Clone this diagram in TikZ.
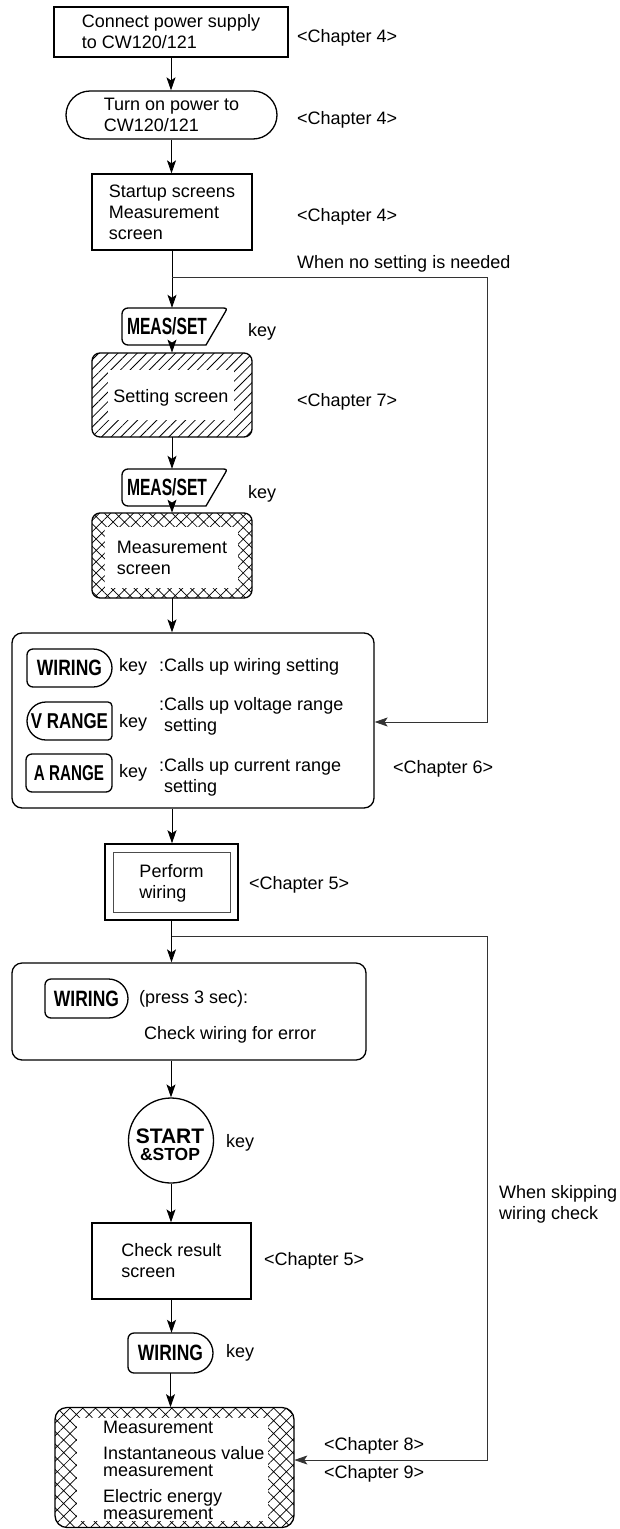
\documentclass[tikz,border=0pt]{standalone}
\usepackage{fontspec}
\setmainfont{Liberation Sans}
\usepackage{graphicx}
\usetikzlibrary{arrows.meta,patterns.meta}
\newcommand\kl[3]{\resizebox{#1pt}{#2pt}{\bfseries #3}}
% right-rounded key: L T R B (pixel coords, y downwards)
\newcommand\dkeyR[4]{\draw[keyline] ({#1+6},{-#2}) -- ({#3-(#4-#2)/2},{-#2}) arc[start angle=90,end angle=-90,radius={(#4-#2)/2}] -- ({#1+6},{-#4}) arc[start angle=270,end angle=180,radius=6] -- ({#1},{-#2-6}) arc[start angle=180,end angle=90,radius=6] -- cycle;}
% left-rounded key
\newcommand\dkeyL[4]{\draw[keyline] ({#1+(#4-#2)/2},{-#2}) -- ({#3-4},{-#2}) arc[start angle=90,end angle=0,radius=4] -- ({#3},{-#4+4}) arc[start angle=0,end angle=-90,radius=4] -- ({#1+(#4-#2)/2},{-#4}) arc[start angle=270,end angle=90,radius={(#4-#2)/2}] -- cycle;}
% MEAS/SET key with top T
\newcommand\mskey[1]{\draw[keyline] (128,{-#1}) -- (223,{-#1}) .. controls (226.5,{-#1}) and (227,{-#1-1}) .. (225.5,{-#1-3.5}) -- (206,{-#1-37}) -- (128,{-#1-37}) arc[start angle=270,end angle=180,radius=6] -- (122,{-#1-6}) arc[start angle=180,end angle=90,radius=6] -- cycle;}
\tikzset{
  bx/.style={draw, line width=1.3pt, align=left},
  lbl/.style={anchor=west},
  keyline/.style={line width=1.3pt},
  arr/.style={line width=0.85pt, -{Stealth[length=13pt,width=9pt,inset=3pt]}},
  arrb/.style={line width=0.8pt, draw=black!80, -{Stealth[length=13pt,width=9pt,inset=3pt]}},
  keynode/.style={inner sep=0pt},
}
\begin{document}
\begin{tikzpicture}[x=1pt,y=1pt,
  every node/.style={font=\fontsize{18}{21}\selectfont, inner sep=0pt}]
\fill[white] (0,0) rectangle (620,-1529);
\useasboundingbox (0,0) rectangle (620,-1529);

% --- top boxes
\node[bx, minimum width=234pt, minimum height=50pt] (n1) at (171,-32) {Connect power supply\\to CW120/121};
\node[lbl] (c1) at (297,-38) {<Chapter 4>};
\node[bx, rounded corners=24pt, minimum width=211pt, minimum height=48pt] (n2) at (171.5,-115) {Turn on power to\\CW120/121};
\node[lbl] (c2) at (297,-120) {<Chapter 4>};
\node[bx, minimum width=160pt, minimum height=76pt] (n3) at (172,-212) {Startup screens\\Measurement\\screen};
\node[lbl] (c3) at (297,-217) {<Chapter 4>};
\node[lbl] (t1) at (297,-264) {When no setting is needed};

% --- MEAS/SET 1
\mskey{308}
\node[keynode, minimum width=90pt, minimum height=37pt] (k1) at (167,-326.5) {\kl{80}{17}{MEAS/SET}};
\node[lbl] (k1t) at (248,-332) {key};

% --- Setting screen
\node[draw, line width=1.3pt, rounded corners=8pt, minimum width=160pt, minimum height=84pt,
  pattern={Lines[angle=45,distance=6.8pt,line width=0.8pt]}] (n4) at (172,-395) {};
\fill[white] (108,-370) rectangle (234,-420);
\node (n4t) at (171,-398) {Setting screen};
\node[lbl] (c4) at (297,-402) {<Chapter 7>};

% --- MEAS/SET 2
\mskey{469}
\node[keynode, minimum width=90pt, minimum height=37pt] (k2) at (167,-487.5) {\kl{80}{17}{MEAS/SET}};
\node[lbl] (k2t) at (248,-494) {key};

% --- Measurement screen
\node[draw, line width=1.3pt, rounded corners=8pt, minimum width=160pt, minimum height=85pt,
  pattern={Hatch[angle=45,distance=8pt,line width=0.7pt]}] (n5) at (172,-555.5) {};
\fill[white] (105,-527) rectangle (238,-588);
\node[align=left] (n5t) at (172,-558) {Measurement\\screen};

% --- big settings box
\node[bx, rounded corners=10pt, minimum width=362pt, minimum height=175pt] (n6) at (193,-720.5) {};
\dkeyR{27}{649}{112}{687}
\node[keynode, minimum width=85pt, minimum height=38pt] (kw1) at (69.5,-668) {\kl{65}{15.5}{WIRING}};
\node[lbl] (kw1k) at (119,-667) {key};
\node[lbl] (kw1d) at (159,-667) {:Calls up wiring setting};
\dkeyL{27}{702}{112}{740}
\node[keynode, minimum width=85pt, minimum height=38pt] (kv) at (69.5,-721) {\kl{77}{15}{V RANGE}};
\node[lbl] (kvk) at (119,-723) {key};
\node[lbl, align=left] (kvd) at (159,-716.5) {:Calls up voltage range\\\hphantom{:}setting};
\draw[keyline, rounded corners=6pt] (26,-754) rectangle (112,-792);
\node[keynode, minimum width=86pt, minimum height=38pt] (ka) at (69,-773) {\kl{70}{15}{A RANGE}};
\node[lbl] (kak) at (119,-773) {key};
\node[lbl, align=left] (kad) at (159,-777.5) {:Calls up current range\\\hphantom{:}setting};
\node[lbl] (c6) at (393,-769) {<Chapter 6>};

% --- Perform wiring
\node[draw, line width=1.5pt, minimum width=133pt, minimum height=76pt] (n7) at (171.5,-882) {};
\draw[line width=0.9pt, black!70] (113,-852) rectangle (230,-912);
\node[align=left] (n7t) at (171.5,-883.5) {Perform\\wiring};
\node[lbl] (c7) at (249,-885) {<Chapter 5>};

% --- wiring check box
\node[bx, rounded corners=10pt, minimum width=354pt, minimum height=97pt] (n8) at (189,-1011.5) {};
\dkeyR{45}{979}{128}{1018}
\node[keynode, minimum width=83pt, minimum height=39pt] (kw2) at (86.5,-998.5) {\kl{65}{15.5}{WIRING}};
\node[lbl] (n8a) at (139,-999) {(press 3 sec):};
\node[lbl] (n8b) at (144,-1035) {Check wiring for error};
\node[lbl, align=left] (t2) at (499,-1204) {When skipping\\wiring check};

% --- START & STOP
\node[draw, circle, line width=1.3pt, minimum size=85pt] (n9) at (171,-1140.5) {};
\node[anchor=base] (n9a) at (170,-1143) {\fontsize{21}{21}\selectfont\bfseries START};
\node[anchor=base] (n9b) at (170,-1160) {\fontsize{17.5}{17.5}\selectfont\bfseries \&STOP};
\node[lbl] (n9k) at (226,-1143) {key};

% --- Check result
\node[bx, minimum width=159pt, minimum height=76pt] (n10) at (171.5,-1261) {Check result\\screen};
\node[lbl] (c10) at (264,-1261) {<Chapter 5>};

% --- WIRING key 3
\dkeyR{128}{1333}{213}{1373}
\node[keynode, minimum width=85pt, minimum height=40pt] (kw3) at (170.5,-1353) {\kl{65}{15.5}{WIRING}};
\node[lbl] (kw3k) at (226,-1353) {key};

% --- final measurement box
\node[draw, line width=1.3pt, rounded corners=12pt, minimum width=239pt, minimum height=120pt,
  pattern={Hatch[angle=45,distance=9pt,line width=0.7pt]}] (n11) at (174.5,-1467.5) {};
\fill[white] (77,-1418) rectangle (268,-1521);
\node[lbl, align=left, font=\fontsize{18}{17}\selectfont] (n11t) at (103,-1470.5)
  {Measurement\\[9pt]Instantaneous value\\measurement\\[9pt]Electric energy\\measurement};
\node[lbl] (c11a) at (324,-1446) {<Chapter 8>};
\node[lbl] (c11b) at (324,-1474) {<Chapter 9>};

% --- connectors
\draw[arr] (n1.south) -- (n1.south |- n2.north);
\draw[arr] (n2.south) -- (n2.south |- n3.north);
\coordinate (b1) at (172,-277);
\coordinate (b1r) at (487,-277);
\coordinate (b1d) at (487,-722);
\draw[arr] (n3.south) -- (n3.south |- k1.north);
\draw[arrb] (b1) -- (b1r) -- (b1d) -- (b1d -| n6.east);
\draw[arr] (k1.south -| n4.north) -- (n4.north);
\draw[arr] (n4.south) -- (n4.south |- k2.north);
\draw[arr] (k2.south -| n5.north) -- (n5.north);
\draw[arr] (n5.south) -- (n5.south |- n6.north);
\draw[arr] (n5.south |- n6.south) -- (n5.south |- n7.north);
\coordinate (b2) at (171.5,-936);
\coordinate (b2r) at (487,-936);
\coordinate (b2d) at (487,-1460);
\draw[arr] (n7.south) -- (n7.south |- n8.north);
\draw[arrb] (b2) -- (b2r) -- (b2d) -- (b2d -| n11.east);
\draw[arr] (n9.north |- n8.south) -- (n9.north);
\draw[arr] (n9.south) -- (n9.south |- n10.north);
\draw[arr] (n10.south) -- (n10.south |- kw3.north);
\draw[arr] (kw3.south) -- (kw3.south |- n11.north);
\end{tikzpicture}
\end{document}
